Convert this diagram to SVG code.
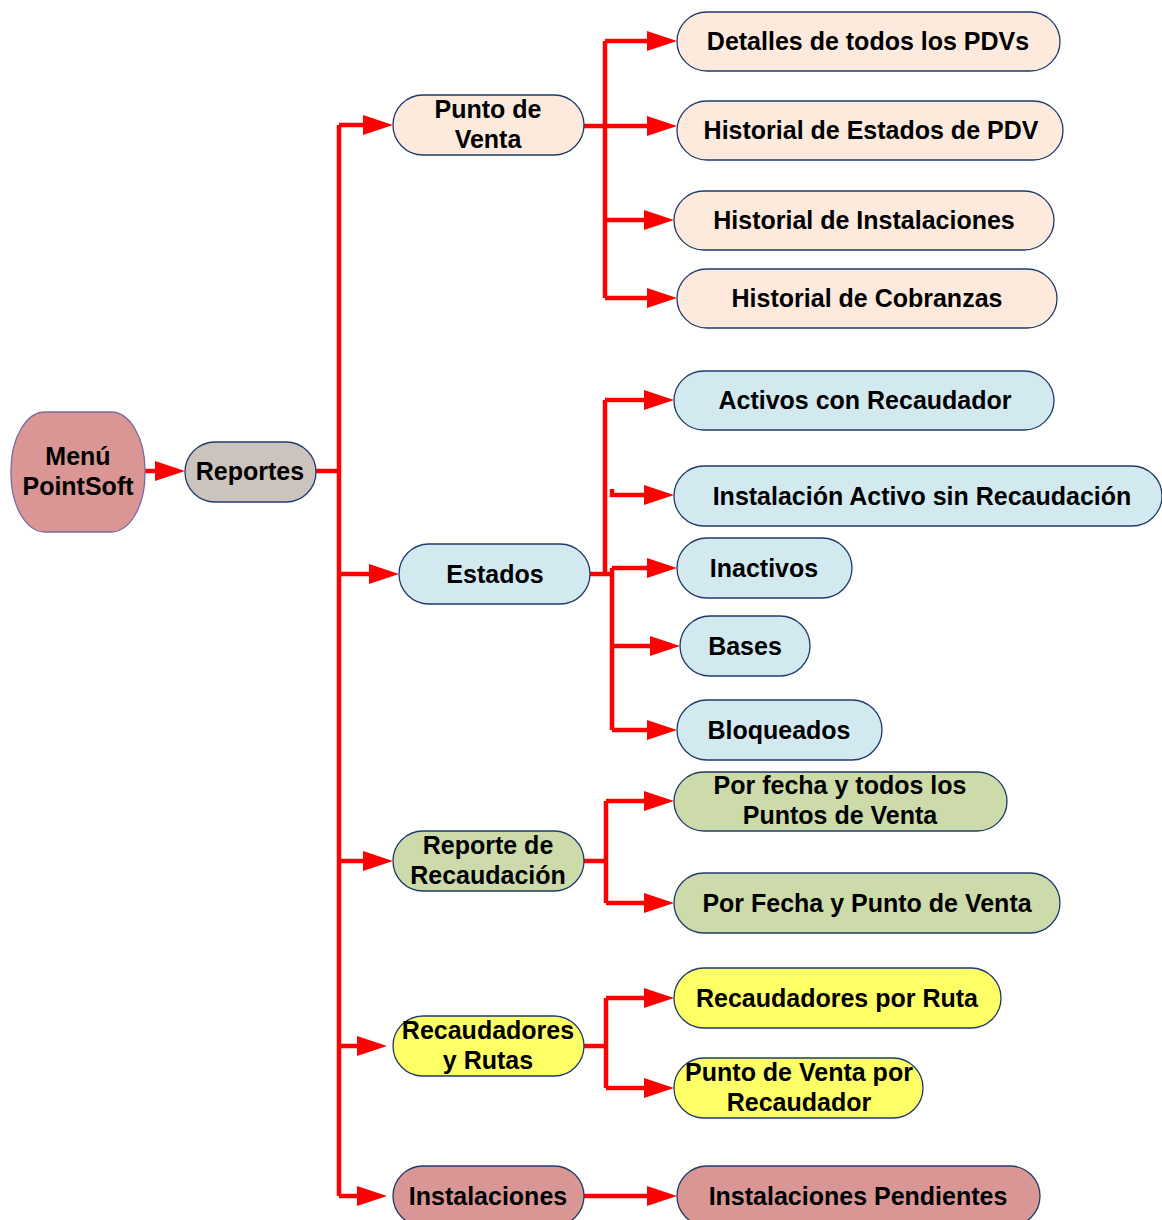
<svg xmlns="http://www.w3.org/2000/svg" width="1162" height="1220" viewBox="0 0 1162 1220">
  <style>
    .box { stroke: #1f3a6b; stroke-width: 1.3; }
    .peach { fill: #fdeadc; }
    .blue { fill: #d2e9f0; }
    .green { fill: #cddbaa; }
    .yellow { fill: #ffff66; }
    .rose { fill: #d99694; }
    .grey { fill: #ccc3bd; }
    text { font-family: "Liberation Sans", Arial, sans-serif; font-weight: bold; font-size: 25px; fill: #000; text-anchor: middle; }
    .wire { fill: none; stroke: #ff0000; stroke-width: 4.5; stroke-linejoin: miter; }
    .arrow { marker-end: url(#head); }
  </style>
  <defs>
    <marker id="head" viewBox="0 0 30 20" markerWidth="30" markerHeight="20" refX="0" refY="10" markerUnits="userSpaceOnUse" orient="auto">
      <path d="M0,0 L30,10 L0,20 Z" fill="#ff0000"/>
    </marker>
  </defs>

  <!-- connectors -->
  <g id="connectors">
    <path class="wire arrow" d="M145,471 H155"/>
    <path class="wire" d="M316,471 H339"/>
    <path class="wire" d="M339,125 V1196"/>
    <path class="wire arrow" d="M339,125 H363"/>
    <path class="wire arrow" d="M339,574 H369"/>
    <path class="wire arrow" d="M339,861 H363"/>
    <path class="wire arrow" d="M339,1046 H357"/>
    <path class="wire arrow" d="M339,1196 H357"/>

    <!-- Punto de Venta branch -->
    <path class="wire" d="M605,41 V298"/>
    <path class="wire arrow" d="M605,41 H647"/>
    <path class="wire arrow" d="M584,126 H647"/>
    <path class="wire arrow" d="M605,220 H644"/>
    <path class="wire arrow" d="M605,298 H647"/>

    <!-- Estados branch -->
    <path class="wire" d="M590,574 H612"/>
    <path class="wire" d="M605,400 V574"/>
    <path class="wire arrow" d="M605,400 H644"/>
    <path class="wire arrow" d="M612,489 V495 H644"/>
    <path class="wire" d="M612,568 V730"/>
    <path class="wire arrow" d="M612,568 H647"/>
    <path class="wire arrow" d="M612,646 H650"/>
    <path class="wire arrow" d="M612,730 H647"/>

    <!-- Reporte de Recaudación branch -->
    <path class="wire" d="M584,861 H606"/>
    <path class="wire" d="M606,801 V903"/>
    <path class="wire arrow" d="M606,801 H644"/>
    <path class="wire arrow" d="M606,903 H644"/>

    <!-- Recaudadores y Rutas branch -->
    <path class="wire" d="M584,1046 H606"/>
    <path class="wire" d="M606,998 V1088"/>
    <path class="wire arrow" d="M606,998 H644"/>
    <path class="wire arrow" d="M606,1088 H644"/>

    <!-- Instalaciones branch -->
    <path class="wire arrow" d="M584,1196 H647"/>
  </g>

  <!-- root and first level -->
  <g id="menu">
    <rect class="rose" x="11" y="412" width="134" height="120" rx="34" ry="58" stroke="#7a6a9e" stroke-width="1.3"/>
    <text x="78" y="465">Menú</text>
    <text x="78" y="495">PointSoft</text>
  </g>
  <g id="reportes">
    <rect class="box grey" x="185" y="442" width="131" height="60" rx="30"/>
    <text x="250" y="480">Reportes</text>
  </g>

  <g id="punto-de-venta">
    <rect class="box peach" x="393" y="95" width="191" height="60" rx="30"/>
    <text x="488" y="118">Punto de</text>
    <text x="488" y="148">Venta</text>
  </g>
  <g id="estados">
    <rect class="box blue" x="399" y="544" width="191" height="60" rx="30"/>
    <text x="495" y="583">Estados</text>
  </g>
  <g id="reporte-recaudacion">
    <rect class="box green" x="393" y="831" width="191" height="60" rx="30"/>
    <text x="488" y="854">Reporte de</text>
    <text x="488" y="884">Recaudación</text>
  </g>
  <g id="recaudadores-rutas">
    <rect class="box yellow" x="393" y="1016" width="191" height="60" rx="30"/>
    <text x="488" y="1039">Recaudadores</text>
    <text x="488" y="1069">y Rutas</text>
  </g>
  <g id="instalaciones">
    <rect class="box rose" x="393" y="1166" width="191" height="60" rx="30"/>
    <text x="488" y="1205">Instalaciones</text>
  </g>

  <!-- Punto de Venta reports -->
  <g id="detalles-pdvs">
    <rect class="box peach" x="677" y="12" width="383" height="59" rx="30"/>
    <text x="868" y="50">Detalles de todos los PDVs</text>
  </g>
  <g id="historial-estados">
    <rect class="box peach" x="677" y="101" width="386" height="59" rx="30"/>
    <text x="871" y="139">Historial de Estados de PDV</text>
  </g>
  <g id="historial-instalaciones">
    <rect class="box peach" x="674" y="191" width="380" height="59" rx="30"/>
    <text x="864" y="229">Historial de Instalaciones</text>
  </g>
  <g id="historial-cobranzas">
    <rect class="box peach" x="677" y="269" width="380" height="59" rx="30"/>
    <text x="867" y="307">Historial de Cobranzas</text>
  </g>

  <!-- Estados reports -->
  <g id="activos-recaudador">
    <rect class="box blue" x="674" y="371" width="380" height="59" rx="30"/>
    <text x="865" y="409">Activos con Recaudador</text>
  </g>
  <g id="instalacion-activo">
    <rect class="box blue" x="674" y="466" width="488" height="60" rx="30"/>
    <text x="922" y="505">Instalación Activo sin Recaudación</text>
  </g>
  <g id="inactivos">
    <rect class="box blue" x="677" y="538" width="175" height="60" rx="30"/>
    <text x="764" y="577">Inactivos</text>
  </g>
  <g id="bases">
    <rect class="box blue" x="680" y="616" width="130" height="60" rx="30"/>
    <text x="745" y="655">Bases</text>
  </g>
  <g id="bloqueados">
    <rect class="box blue" x="677" y="700" width="205" height="60" rx="30"/>
    <text x="779" y="739">Bloqueados</text>
  </g>

  <!-- Recaudación reports -->
  <g id="por-fecha-todos">
    <rect class="box green" x="674" y="772" width="333" height="59" rx="30"/>
    <text x="840" y="794">Por fecha y todos los</text>
    <text x="840" y="824">Puntos de Venta</text>
  </g>
  <g id="por-fecha-punto">
    <rect class="box green" x="674" y="873" width="386" height="60" rx="30"/>
    <text x="867" y="912">Por Fecha y Punto de Venta</text>
  </g>

  <!-- Recaudadores reports -->
  <g id="recaudadores-ruta">
    <rect class="box yellow" x="674" y="968" width="327" height="60" rx="30"/>
    <text x="837" y="1007">Recaudadores por Ruta</text>
  </g>
  <g id="pdv-recaudador">
    <rect class="box yellow" x="674" y="1058" width="249" height="60" rx="30"/>
    <text x="799" y="1081">Punto de Venta por</text>
    <text x="799" y="1111">Recaudador</text>
  </g>

  <!-- Instalaciones report -->
  <g id="instalaciones-pendientes">
    <rect class="box rose" x="677" y="1166" width="363" height="60" rx="30"/>
    <text x="858" y="1205">Instalaciones Pendientes</text>
  </g>
</svg>
